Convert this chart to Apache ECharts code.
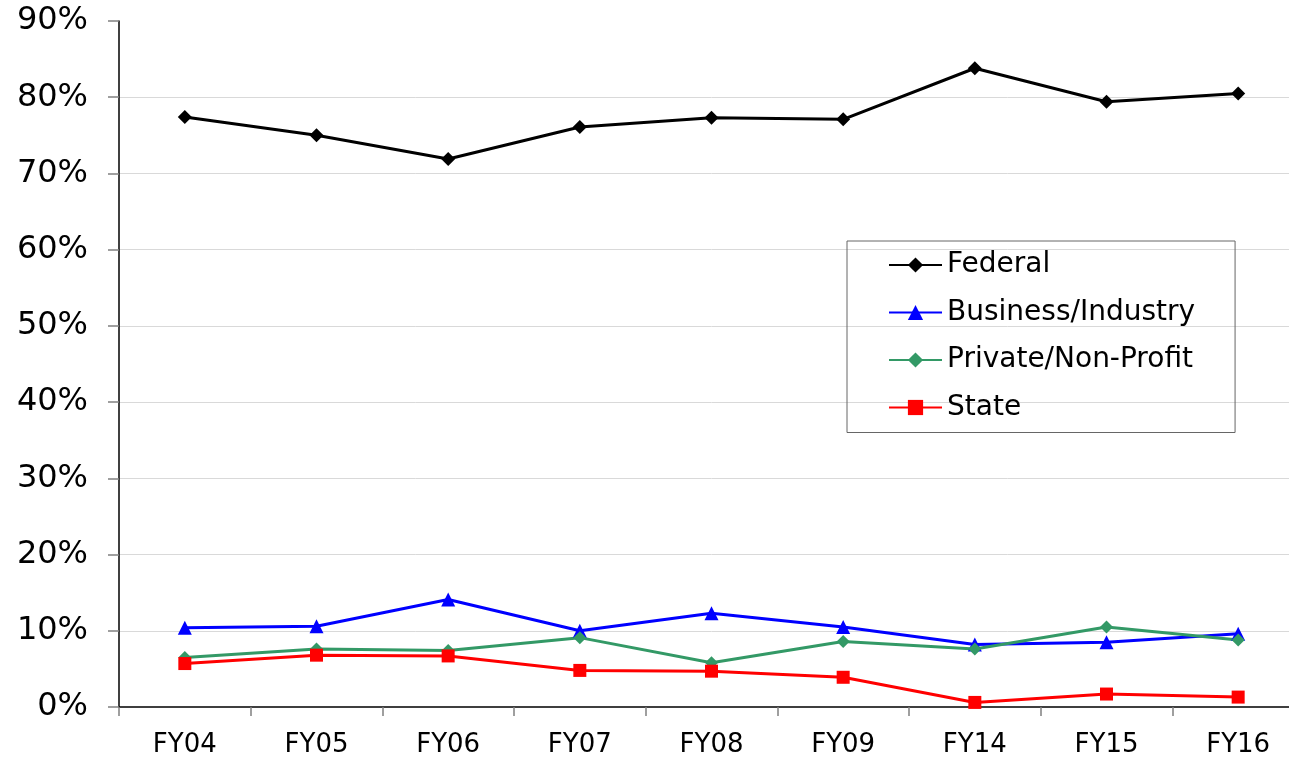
<!DOCTYPE html>
<html>
<head>
<meta charset="utf-8">
<script src="https://cdn.jsdelivr.net/npm/echarts@6/dist/echarts.min.js"></script>
<style>
  html, body { margin: 0; padding: 0; background: #fff; overflow: hidden; width: 1289px; height: 758px; }
  /* plot runs past the right edge in the original, so the canvas is wider than the window */
  #chart { width: 1304px; height: 758px; }
</style>
</head>
<body>
<div id="chart"></div>
<script>
const years = ['FY04', 'FY05', 'FY06', 'FY07', 'FY08', 'FY09', 'FY14', 'FY15', 'FY16']
const federal = [77.4, 75.0, 71.9, 76.1, 77.3, 77.1, 83.8, 79.4, 80.5]
const business = [10.4, 10.6, 14.1, 10.0, 12.3, 10.5, 8.2, 8.5, 9.6]
const privateNonProfit = [6.5, 7.6, 7.4, 9.1, 5.8, 8.6, 7.6, 10.5, 8.8]
const state = [5.7, 6.8, 6.7, 4.8, 4.7, 3.9, 0.6, 1.7, 1.3]

const font = '"DejaVu Sans", Verdana, sans-serif'
const chart = echarts.init(document.getElementById('chart'))

const makeSeries = (name, data, color, symbol, size) => ({
  name,
  type: 'line',
  data,
  symbol,
  symbolSize: size,
  showAllSymbol: true,
  lineStyle: { color, width: 3 },
  itemStyle: { color },
  emphasis: { disabled: true }
})

chart.setOption({
  animation: false,
  grid: { left: 119, right: 0, top: 21, bottom: 51 },
  legend: {
    orient: 'vertical',
    left: 847,
    top: 241,
    padding: [9, 40, 10, 41],
    itemGap: 17.5,
    itemWidth: 53,
    itemHeight: 19,
    borderColor: '#666',
    borderWidth: 1,
    textStyle: { fontFamily: font, fontSize: 28, color: '#000', lineHeight: 30 },
    data: ['Federal', 'Business/Industry', 'Private/Non-Profit', 'State']
  },
  xAxis: {
    type: 'category',
    data: years,
    boundaryGap: true,
    axisLine: { lineStyle: { color: '#000', width: 1.5 } },
    axisTick: { show: true, length: 9, lineStyle: { color: '#808080', width: 1.5 } },
    axisLabel: { color: '#000', fontFamily: font, fontSize: 26, margin: 25 },
    splitLine: { show: false }
  },
  yAxis: {
    type: 'value',
    min: 0,
    max: 90,
    interval: 10,
    axisLine: { show: true, lineStyle: { color: '#000', width: 1.5 } },
    axisTick: { show: true, length: 11, lineStyle: { color: '#808080', width: 1.5 } },
    axisLabel: { color: '#000', fontFamily: font, fontSize: 32, margin: 31, formatter: '{value}%' },
    splitLine: { show: true, showMinLine: false, showMaxLine: false, lineStyle: { color: '#d9d9d9', width: 1 } }
  },
  series: [
    makeSeries('Federal', federal, '#000000', 'diamond', 14),
    makeSeries('Business/Industry', business, '#0000ff', 'triangle', 14),
    makeSeries('Private/Non-Profit', privateNonProfit, '#339966', 'diamond', 13),
    makeSeries('State', state, '#ff0000', 'rect', 13)
  ]
})
</script>
</body>
</html>
